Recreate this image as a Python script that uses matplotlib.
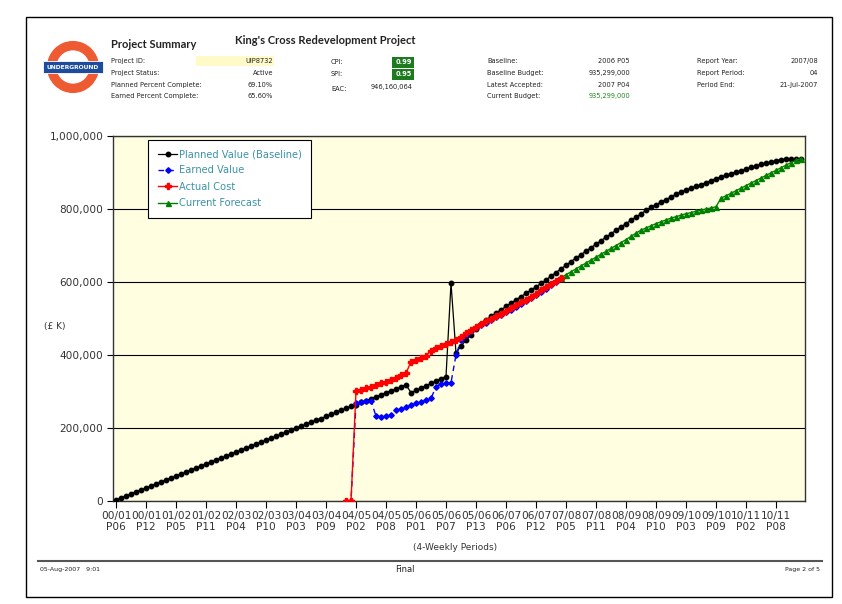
import numpy as np
import matplotlib
matplotlib.use("Agg")
import matplotlib.pyplot as plt
from matplotlib.patches import Rectangle, Wedge

# values in £K, one per 4-weekly period
planned = [3, 8, 14, 19, 25, 30, 36, 41, 47, 52,
           58, 63, 68, 74, 79, 85, 90, 96, 101, 107,
           112, 117, 123, 128, 134, 139, 145, 150, 156, 161,
           167, 172, 177, 183, 188, 194, 199, 205, 210, 216,
           221, 226, 232, 237, 243, 248, 254, 259, 264, 270,
           275, 280, 286, 291, 297, 302, 307, 313, 318, 297,
           303, 309, 316, 322, 328, 335, 341, 597, 405, 425,
           440, 455, 470, 484, 496, 506, 515, 524, 533, 542,
           551, 560, 569, 578, 587, 596, 606, 616, 626, 636,
           646, 656, 666, 675, 685, 694, 704, 713, 723, 732,
           742, 751, 760, 769, 778, 787, 796, 805, 812, 819,
           826, 833, 840, 847, 852, 857, 862, 867, 872, 878,
           883, 888, 892, 897, 901, 905, 909, 914, 918, 922,
           926, 929, 932, 935, 937, 938, 938, 937]
planned_start = 0

earned = [0, 0, 268, 271, 273, 274, 233, 231, 232, 236,
          249, 252, 257, 262, 268, 272, 276, 281, 313, 320,
          322, 324, 400, 440, 455, 466, 474, 482, 489, 496,
          503, 510, 517, 524, 532, 540, 548, 556, 564, 573,
          582, 591, 600, 610]
actual = [0, 0, 301, 305, 309, 313, 318, 322, 327, 332,
          338, 344, 350, 382, 386, 391, 398, 412, 418, 425,
          430, 435, 440, 450, 460, 468, 476, 484, 492, 499,
          506, 513, 521, 528, 536, 544, 552, 560, 568, 577,
          586, 595, 604, 612]
actuals_start = 46

forecast = [612, 620, 628, 636, 644, 652, 660, 668, 676, 684,
            692, 700, 708, 716, 725, 734, 742, 748, 754, 760,
            765, 770, 775, 779, 783, 787, 790, 794, 797, 800,
            803, 806, 830, 836, 843, 850, 857, 864, 871, 878,
            885, 892, 899, 906, 913, 920, 927, 933, 938]
forecast_start = 89

tick_labels = ["00/01\nP06", "00/01\nP12", "01/02\nP05", "01/02\nP11", "02/03\nP04",
               "02/03\nP10", "03/04\nP03", "03/04\nP09", "04/05\nP02", "04/05\nP08",
               "05/06\nP01", "05/06\nP07", "05/06\nP13", "06/07\nP06", "06/07\nP12",
               "07/08\nP05", "07/08\nP11", "08/09\nP04", "08/09\nP10", "09/10\nP03",
               "09/10\nP09", "10/11\nP02", "10/11\nP08"]

W, H = 842, 604


def fx(x):
    return x / W


def fy(y):
    return 1 - y / H


fig = plt.figure(figsize=(W / 100, H / 100), dpi=100)
fig.patch.set_facecolor("white")

# page frame
fig.add_artist(Rectangle((fx(26), fy(597)), fx(806), 580 / H, transform=fig.transFigure,
                         fill=False, ec="black", lw=1))

# roundel logo
lg = fig.add_axes([fx(42), fy(95), fx(62), 56 / H])
lg.set_xlim(-1.15, 1.15)
lg.set_ylim(-1.05, 1.05)
lg.set_aspect("equal")
lg.axis("off")
lg.add_patch(Wedge((0, 0), 0.95, 0, 360, width=0.3, color="#EE5A32"))
lg.add_patch(Rectangle((-1.12, -0.24), 2.24, 0.48, fc="#1D4C9E", ec="white", lw=0.6))
lg.text(0, -0.01, "UNDERGROUND", color="white", fontsize=4.3, fontweight="bold",
        ha="center", va="center")

# header block
fig.text(fx(111), fy(44), "Project Summary", fontsize=8, fontweight="bold", va="center",
         family="Lato", color="#222")
fig.text(fx(235), fy(41), "King's Cross Redevelopment Project", fontsize=8,
         fontweight="bold", va="center", family="Lato", color="#222")

small = dict(fontsize=4.8, va="center", color="#222")
fig.add_artist(Rectangle((fx(196), fy(66)), fx(78), 10 / H, transform=fig.transFigure,
                         fc="#FFFAC8", ec="none"))
left_rows = [("Project ID:", "UIP8732", 61), ("Project Status:", "Active", 73),
             ("Planned Percent Complete:", "69.10%", 85), ("Earned Percent Complete:", "65.60%", 96)]
for lab, val, y in left_rows:
    fig.text(fx(111), fy(y), lab, **small)
    fig.text(fx(273), fy(y), val, ha="right", fontsize=4.8, va="center", color="#222")

for lab, val, y in [("CPI:", "0.99", 62), ("SPI:", "0.95", 74)]:
    fig.text(fx(331), fy(y), lab, **small)
    fig.add_artist(Rectangle((fx(392), fy(y + 6)), fx(22), 11 / H, transform=fig.transFigure,
                             fc="#1E7A1E", ec="none"))
    fig.text(fx(412), fy(y), val, ha="right", fontsize=4.8, va="center", color="white",
             fontweight="bold")
fig.text(fx(331), fy(89), "EAC:", **small)
fig.text(fx(413), fy(87), "946,160,064", ha="right", fontsize=4.8, va="center", color="#222")

mid_rows = [("Baseline:", "2006 P05", 61), ("Baseline Budget:", "935,299,000", 73),
            ("Latest Accepted:", "2007 P04", 85), ("Current Budget:", "935,299,000", 96)]
for lab, val, y in mid_rows:
    fig.text(fx(487), fy(y), lab, **small)
    col = "#1E8A1E" if lab.startswith("Current") else "#222"
    fig.text(fx(630), fy(y), val, ha="right", fontsize=4.8, va="center", color=col)

right_rows = [("Report Year:", "2007/08", 61), ("Report Period:", "04", 73),
              ("Period End:", "21-Jul-2007", 85)]
for lab, val, y in right_rows:
    fig.text(fx(697), fy(y), lab, **small)
    fig.text(fx(818), fy(y), val, ha="right", fontsize=4.8, va="center", color="#222")

# main chart
ax = fig.add_axes([fx(113), fy(501), fx(692), 365 / H])
ax.set_facecolor("#FFFEE0")

def periods(start, vals):
    return np.arange(start, start + len(vals))

ax.plot(periods(planned_start, planned), np.array(planned) * 1000, color="black", lw=0.9,
        marker="o", ms=3.2, label="Planned Value (Baseline)", zorder=3)
ax.plot(periods(actuals_start, earned), np.array(earned) * 1000, color="blue", lw=1,
        ls=(0, (4, 3)), marker="D", ms=2.8, label="Earned Value", zorder=4)
ax.plot(periods(actuals_start, actual), np.array(actual) * 1000, color="red", lw=1,
        marker="P", ms=3.8, label="Actual Cost", zorder=5)
ax.plot(periods(forecast_start, forecast), np.array(forecast) * 1000, color="green", lw=1,
        marker="^", ms=3.6, label="Current Forecast", zorder=3)

ax.set_xlim(-0.6, 137.8)
ax.set_ylim(0, 1000000)
ax.set_xticks(np.arange(0, 6 * len(tick_labels), 6))
ax.set_xticklabels(tick_labels, fontsize=7.6, color="#333", linespacing=1.1)
ax.set_yticks(np.arange(0, 1000001, 200000))
ax.set_yticklabels([f"{v:,}" for v in range(0, 1000001, 200000)], fontsize=7.6, color="#333")
ax.tick_params(axis="x", direction="out", length=5, pad=2)
ax.tick_params(axis="y", direction="out", length=4, pad=3)
ax.yaxis.grid(True, color="black", lw=0.8)
ax.set_axisbelow(True)
for s in ax.spines.values():
    s.set_color("#333")
    s.set_linewidth(1)

leg = ax.legend(loc="upper left", bbox_to_anchor=(0.051, 0.99), fancybox=False,
                edgecolor="black", framealpha=1, fontsize=7.1, labelcolor="#3B93A8",
                handlelength=2.0, handletextpad=0.15, labelspacing=0.65, borderpad=0.95,
                borderaxespad=0)
leg.get_frame().set_linewidth(0.8)

fig.text(fx(44), fy(327), "(£ K)", fontsize=6.5, color="#333", va="center")
fig.text(fx(455), fy(548), "(4-Weekly Periods)", fontsize=6.5, color="#333",
         ha="center", va="center")

# footer
fig.add_artist(plt.Line2D([fx(38), fx(822)], [fy(561), fy(561)], transform=fig.transFigure,
                          color="#555", lw=1.5))
fig.text(fx(40), fy(570), "05-Aug-2007   9:01", fontsize=4.5, va="center", color="#222")
fig.text(fx(405), fy(569), "Final", fontsize=6, va="center", ha="center", color="#222")
fig.text(fx(820), fy(570), "Page 2 of 5", fontsize=4.5, va="center", ha="right", color="#222")

fig.savefig("out.png", dpi=100)
